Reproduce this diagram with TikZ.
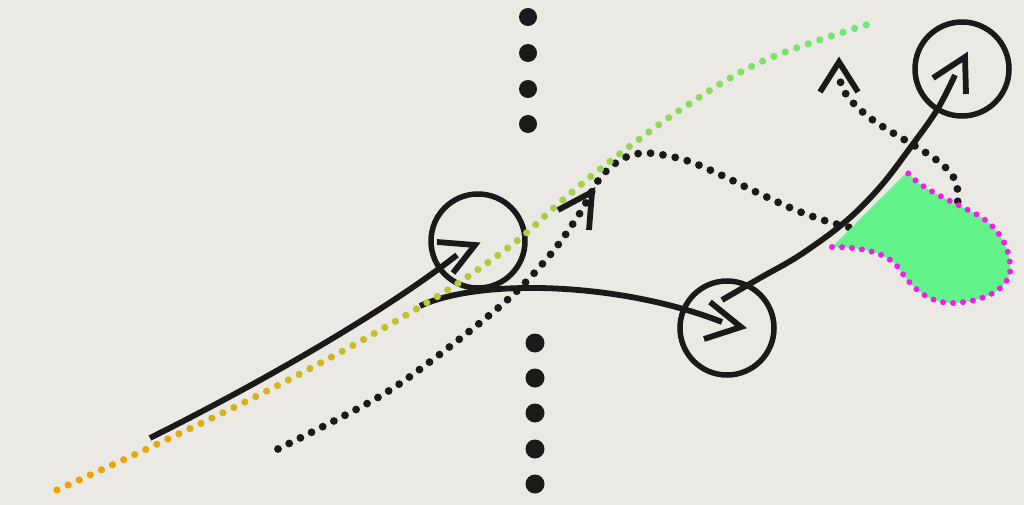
\documentclass[tikz,border=0pt]{standalone}
\definecolor{bg}{HTML}{EAE9E4}
\definecolor{ink}{HTML}{1A1A1A}
\definecolor{gA}{HTML}{F2A000}
\definecolor{gB}{HTML}{B8C83C}
\definecolor{gC}{HTML}{6CE87A}
\definecolor{blobfill}{HTML}{62F48A}
\definecolor{mag}{HTML}{F51CF0}
\begin{document}
\begin{tikzpicture}[x=1pt,y=-1pt,
  inkline/.style={draw=ink,line width=5.8pt},
  ring/.style={draw=ink,line width=5.5pt},
  chev/.style={draw=ink,line width=5.8pt,line join=miter,miter limit=10},
  blackdots/.style={draw=ink,line width=7.8pt,line cap=round,dash pattern=on 0pt off 12.5pt},
  magdots/.style={draw=mag,line width=6pt,line cap=round,dash pattern=on 0pt off 10pt},
  gradots/.style={line width=7.2pt,line cap=round,dash pattern=on 0pt off 12.2pt},
  bigdot/.style={fill=ink}
]
\useasboundingbox (0,0) rectangle (1024,505);
\fill[bg] (0,0) rectangle (1024,505);

% black dotted path
\draw[blackdots] plot[smooth,tension=0.55] coordinates {(278,449) (370,402) (423,367) (505,302) (550,255) (580,213) (600,178) (622,159) (647,153) (685,160) (721,175) (756,192) (803,213) (852,228) (915,238)};
\draw[blackdots] (915,238) .. controls (950,240) and (965,205) .. (955,180) .. controls (945,158) and (900,140) .. (870,118) .. controls (852,104) and (842,92) .. (840,80);

% green blob
\fill[blobfill] (907,172) -- (832,247) .. controls (860,247) and (885,252) .. (897,266)
  .. controls (910,285) and (925,303) .. (953,303)
  .. controls (980,302) and (1005,292) .. (1010,273)
  .. controls (1012,250) and (1000,225) .. (970,211)
  .. controls (945,198) and (920,188) .. (907,172) -- cycle;
\draw[magdots] (832,247) .. controls (860,247) and (885,252) .. (897,266)
  .. controls (910,285) and (925,303) .. (953,303)
  .. controls (980,302) and (1005,292) .. (1010,273)
  .. controls (1012,250) and (1000,225) .. (970,211)
  .. controls (945,198) and (920,188) .. (907,172);

% solid curves
\draw[inkline] (150,438) .. controls (290,368) and (400,300) .. (457,255);
\draw[inkline] (420,306) .. controls (480,278) and (620,282) .. (722,322);
\draw[inkline] plot[smooth,tension=0.6] coordinates {(722,300) (760,278) (800,255) (845,222) (880,187) (910,148) (937,110) (955,75)};

% circles
\draw[ring] (478,241) circle[radius=47pt];
\draw[ring] (727,328) circle[radius=47pt];
\draw[ring] (962,69) circle[radius=47pt];

% chevrons
\draw[chev] (437,242) -- (475,245) -- (453,273);
\draw[chev] (710,302) -- (741,327) -- (704,339);
\draw[chev] (933,78) -- (965,57) -- (966,94);
\draw[chev] (558,210) -- (592,192) -- (589,230);
\draw[chev] (820,92) -- (839,62) -- (858,92);

% gradient dotted curve (coloured band by band)
\foreach \i in {0,...,19}{
  \pgfmathsetmacro\xa{45+\i*42}
  \pgfmathsetmacro\xb{45+(\i+1)*42}
  \pgfmathtruncatemacro\t{\i*100/19}
  \ifnum\t<50
    \pgfmathtruncatemacro\q{2*\t}\colorlet{dc}{gB!\q!gA}
  \else
    \pgfmathtruncatemacro\q{2*\t-100}\colorlet{dc}{gC!\q!gB}
  \fi
  \begin{scope}
    \clip (\xa,0) rectangle (\xb,505);
    \draw[gradots,draw=dc] plot[smooth,tension=0.6] coordinates {(57,490) (151,447) (257,396) (350,347) (418,308) (463,280) (518,240) (557,205) (608,163) (683,108) (763,61) (869,24)};
  \end{scope}
}

% big dots
\foreach \yy in {17,53,89,124} \fill[bigdot] (528,\yy) circle[radius=9pt];
\foreach \yy in {343,378,413,449,484} \fill[bigdot] (535,\yy) circle[radius=9.5pt];
\end{tikzpicture}
\end{document}
